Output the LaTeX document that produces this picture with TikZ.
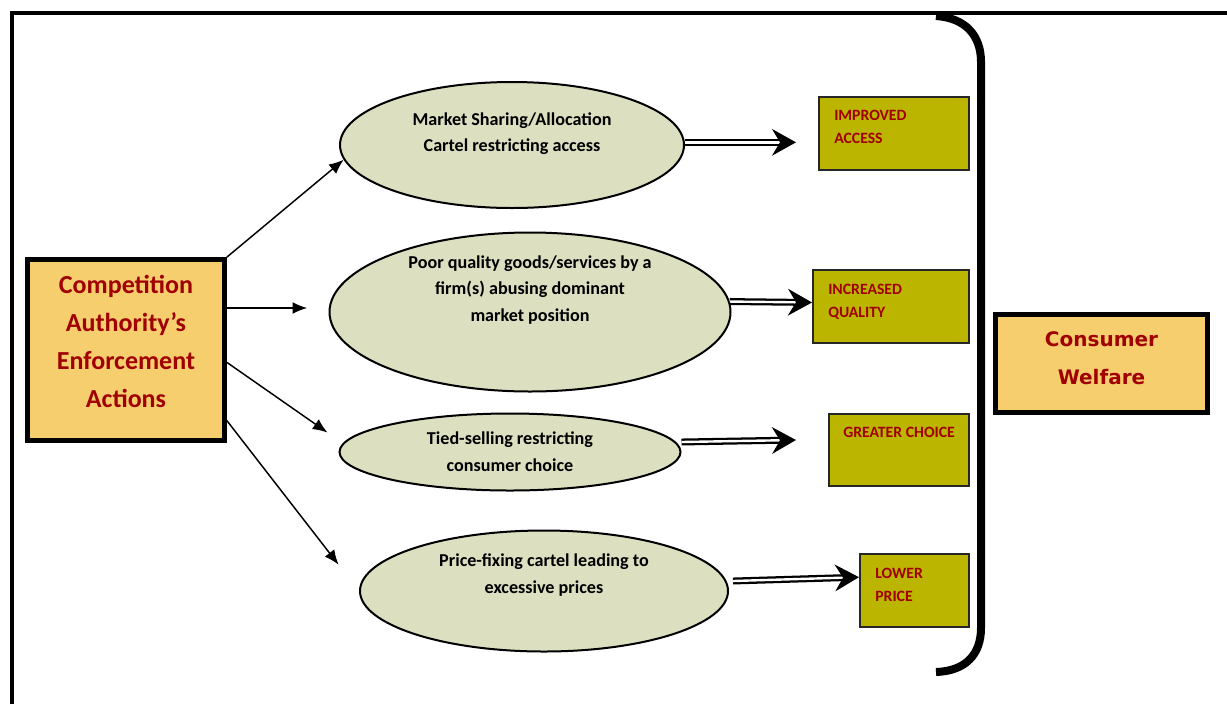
\documentclass[tikz,border=0pt]{standalone}
\usepackage{fontspec}
\setmainfont{Carlito}
\newfontfamily\welffont{DejaVu Sans}
\usetikzlibrary{shapes.geometric}
\usetikzlibrary{arrows.meta}

\definecolor{actfill}{RGB}{246,206,110}
\definecolor{ellfill}{RGB}{220,224,193}
\definecolor{olivefill}{RGB}{187,181,0}
\definecolor{redtext}{RGB}{160,0,0}

\tikzset{
  actbox/.style={draw, line width=3.6pt, fill=actfill, inner sep=0pt},
  probell/.style={ellipse, draw, line width=1.5pt, fill=ellfill, inner sep=0pt},
  gainbox/.style={draw=black!85, line width=1.5pt, fill=olivefill, inner sep=0pt},
  acttext/.style={font=\fontsize{19.5}{28.5}\selectfont\bfseries, text=redtext, align=center, inner sep=0pt},
  probtext/.style={font=\fontsize{13.6}{20}\selectfont\bfseries, align=center, inner sep=0pt},
  gaintext/.style={font=\fontsize{11.8}{17.25}\selectfont\bfseries, text=redtext, align=left, inner sep=0pt, anchor=north west},
  welftext/.style={font=\fontsize{15}{28.5}\selectfont\welffont\bfseries, text=redtext, align=center},
  arr/.style={line width=1.1pt, -{Latex[length=11pt,width=9pt]}},
  dblarr/.style={double, line width=1.7pt, double distance=1.8pt, -{Stealth[length=18pt,width=20pt,inset=6pt]}}
}

\begin{document}
\begin{tikzpicture}[x=0.75pt,y=0.75pt,yscale=-1,xscale=1]
\useasboundingbox (0,0) rectangle (1227,704);

% Frame
\draw [line width=3pt] (12,704) -- (12,13) -- (1227,13);

% Enforcement box
\node [actbox, minimum width=147.75pt, minimum height=135.75pt] (cmp) at (126,350) {};
\node [acttext] (cmptxt) at (126,341.5) {Competition\\Authority’s\\Enforcement\\Actions};

% Problem ellipses
\node [probell, minimum width=258pt, minimum height=94.5pt] (e1) at (512,145) {};
\node [probtext] (e1txt) at (512,133.5) {Market Sharing/Allocation\\Cartel restricting access};
\node [probell, minimum width=300.75pt, minimum height=119.25pt] (e2) at (530,312) {};
\node [probtext] (e2txt) at (530,290) {Poor quality goods/services by a\\firm(s) abusing dominant\\market position};
\node [probell, minimum width=255.75pt, minimum height=57.75pt] (e3) at (510,452) {};
\node [probtext] (e3txt) at (510,452) {Tied-selling restricting\\consumer choice};
\node [probell, minimum width=276pt, minimum height=90.75pt] (e4) at (544,591) {};
\node [probtext] (e4txt) at (544,575) {Price-fixing cartel leading to\\excessive prices};

% Outcome boxes
\node [gainbox, minimum width=112.5pt, minimum height=54.75pt] (r1) at (894,133.5) {};
\node [gaintext] (r1txt) at (834,110) {IMPROVED\\ACCESS};
\node [gainbox, minimum width=117pt, minimum height=54.75pt] (r2) at (891,306.5) {};
\node [gaintext] (r2txt) at (828,284) {INCREASED\\QUALITY};
\node [gainbox, minimum width=105pt, minimum height=54pt] (r3) at (899,450) {};
\node [gaintext] (r3txt) at (843,427) {GREATER CHOICE};
\node [gainbox, minimum width=81.75pt, minimum height=54.75pt] (r4) at (914.5,590.5) {};
\node [gaintext] (r4txt) at (875,568) {LOWER\\PRICE};

% Bracket
\draw [line width=6pt] (936,16) .. controls (966,18) and (981,36) .. (981,62) -- (981,628) .. controls (981,654) and (966,671) .. (936,672);

% Consumer welfare box
\node [actbox, minimum width=159pt, minimum height=73.5pt] (cw) at (1101.5,363.5) {};
\node [welftext] (cwtxt) at (1101.5,358) {Consumer\\Welfare};

% Connections
\draw [arr] (cmp.north east) -- (e1.185);
\draw [arr, shorten >=16pt] ([yshift=-3]cmp.east |- e2.west) -- ([yshift=-3]e2.west);
\draw [arr, shorten >=14pt] (cmp.-7.5) -- (e3.177);
\draw [arr, shorten >=25pt] (cmp.-35) -- (e4.west);

\draw [dblarr, shorten >=16.5pt] ([yshift=-2]e1.east) -- ([yshift=-2]e1.east -| r1.west);
\draw [dblarr] (e2.3.5) -- ([yshift=-3]r2.west);
\draw [dblarr] ([yshift=-7.5]e3.east) -- ([xshift=-24,yshift=-7.5]r3.west);
\draw [dblarr] ([xshift=3,yshift=-7.5]e4.east) -- ([yshift=-10]r4.west);

\end{tikzpicture}
\end{document}
